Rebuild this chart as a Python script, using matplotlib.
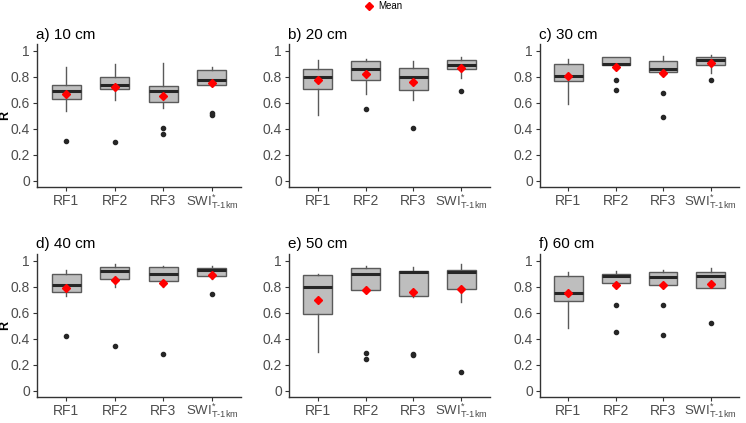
import matplotlib
matplotlib.use('Agg')
import matplotlib.pyplot as plt
import matplotlib.transforms as mtransforms
from matplotlib.lines import Line2D

plt.rcParams['font.family'] = ['Liberation Sans', 'DejaVu Sans']
plt.rcParams['mathtext.fontset'] = 'custom'
plt.rcParams['mathtext.rm'] = 'Liberation Sans'

# labels
panel_titles = ['a) 10 cm', 'b) 20 cm', 'c) 30 cm', 'd) 40 cm', 'e) 50 cm', 'f) 60 cm']
models = ['RF1', 'RF2', 'RF3', r'SWI$^{*}_{\mathrm{T\text{-}1km}}$']

# box statistics per panel (rows) and model (columns)
whishi = [[0.88, 0.90, 0.91, 0.88],
          [0.93, 0.94, 0.92, 0.95],
          [0.94, 0.95, 0.96, 0.97],
          [0.93, 0.97, 0.96, 0.96],
          [0.90, 0.96, 0.95, 0.97],
          [0.91, 0.92, 0.93, 0.94]]
q3 = [[0.74, 0.80, 0.73, 0.85],
      [0.86, 0.92, 0.87, 0.93],
      [0.90, 0.95, 0.92, 0.95],
      [0.90, 0.95, 0.95, 0.94],
      [0.89, 0.94, 0.92, 0.93],
      [0.88, 0.90, 0.91, 0.91]]
med = [[0.69, 0.74, 0.69, 0.78],
       [0.80, 0.86, 0.80, 0.89],
       [0.81, 0.90, 0.86, 0.93],
       [0.81, 0.92, 0.90, 0.93],
       [0.80, 0.90, 0.91, 0.91],
       [0.75, 0.88, 0.87, 0.88]]
q1 = [[0.63, 0.71, 0.61, 0.74],
      [0.71, 0.78, 0.70, 0.86],
      [0.77, 0.89, 0.84, 0.89],
      [0.76, 0.86, 0.84, 0.88],
      [0.59, 0.77, 0.73, 0.78],
      [0.69, 0.83, 0.81, 0.79]]
whislo = [[0.54, 0.62, 0.56, 0.74],
          [0.51, 0.67, 0.62, 0.79],
          [0.59, 0.88, 0.83, 0.83],
          [0.73, 0.80, 0.80, 0.86],
          [0.30, 0.77, 0.72, 0.68],
          [0.48, 0.82, 0.80, 0.79]]
means = [[0.67, 0.72, 0.65, 0.75],
         [0.78, 0.82, 0.76, 0.87],
         [0.81, 0.88, 0.83, 0.91],
         [0.79, 0.85, 0.83, 0.89],
         [0.70, 0.77, 0.76, 0.78],
         [0.75, 0.81, 0.81, 0.82]]
fliers = [[[0.31], [0.30], [0.41, 0.36], [0.52, 0.51]],
          [[], [0.55], [0.41], [0.69]],
          [[], [0.78, 0.70], [0.68, 0.49], [0.78]],
          [[0.42], [0.34], [0.28], [0.74]],
          [[], [0.29, 0.24], [0.28, 0.27], [0.14]],
          [[], [0.66, 0.45], [0.66, 0.43], [0.52]]]

W, H = 746, 423
fig = plt.figure(figsize=(W / 100, H / 100), dpi=100)

lefts = [37, 289, 540]
widths = [204, 201, 199]
tops = [44.5, 254]
ax_h = 143

tick_col = '#4D4D4D'
for i, title in enumerate(panel_titles):
    r, c = divmod(i, 3)
    ax = fig.add_axes([lefts[c] / W, 1 - (tops[r] + ax_h) / H, widths[c] / W, ax_h / H])
    stats = []
    for j in range(4):
        stats.append(dict(med=med[i][j], q1=q1[i][j], q3=q3[i][j],
                          whislo=whislo[i][j], whishi=whishi[i][j],
                          mean=means[i][j], fliers=fliers[i][j]))
    ax.bxp(stats, positions=[1, 2, 3, 4], widths=0.6, patch_artist=True,
           showmeans=True, showcaps=False,
           boxprops=dict(facecolor='#BEBEBE', edgecolor='#5A5A5A', linewidth=1.0),
           whiskerprops=dict(color='#5A5A5A', linewidth=1.0),
           medianprops=dict(color='#262626', linewidth=2.2),
           meanprops=dict(marker='D', markerfacecolor='red', markeredgecolor='red', markersize=4.2),
           flierprops=dict(marker='o', markerfacecolor='#262626', markeredgecolor='#262626', markersize=3))
    ax.set_xlim(0.4, 4.6)
    ax.set_ylim(-0.05, 1.05)
    ax.set_yticks([0, 0.2, 0.4, 0.6, 0.8, 1])
    ax.set_yticklabels(['0', '0.2', '0.4', '0.6', '0.8', '1'])
    ax.set_xticks([1, 2, 3, 4])
    ax.set_xticklabels(models)
    ax.tick_params(labelsize=10, colors='#333333', labelcolor=tick_col, length=3, width=0.8, pad=2)
    # nudge the SWI label up so its subscript stays inside the figure
    swi = ax.get_xticklabels()[3]
    swi.set_fontsize(9.5)
    swi.set_transform(swi.get_transform() +
                      mtransforms.ScaledTranslation(0, 2.5 / 100, fig.dpi_scale_trans))
    for s in ['top', 'right']:
        ax.spines[s].set_visible(False)
    for s in ['left', 'bottom']:
        ax.spines[s].set_color('#333333')
        ax.spines[s].set_linewidth(1.0)
    ax.set_title(title, loc='left', fontsize=11, pad=4, x=-0.005)
    if c == 0:
        ax.set_ylabel('R', fontsize=9, fontweight='bold')
        ax.yaxis.set_label_coords((11 - lefts[c]) / widths[c], 0.5)

# legend
handle = Line2D([], [], marker='D', color='red', linestyle='none', markersize=4.5)
fig.legend([handle], ['Mean'], loc='center', bbox_to_anchor=(383 / W, 1 - 6 / H),
           frameon=False, fontsize=7, handletextpad=0.3, handlelength=1.2)

fig.savefig('out.png', dpi=100)
